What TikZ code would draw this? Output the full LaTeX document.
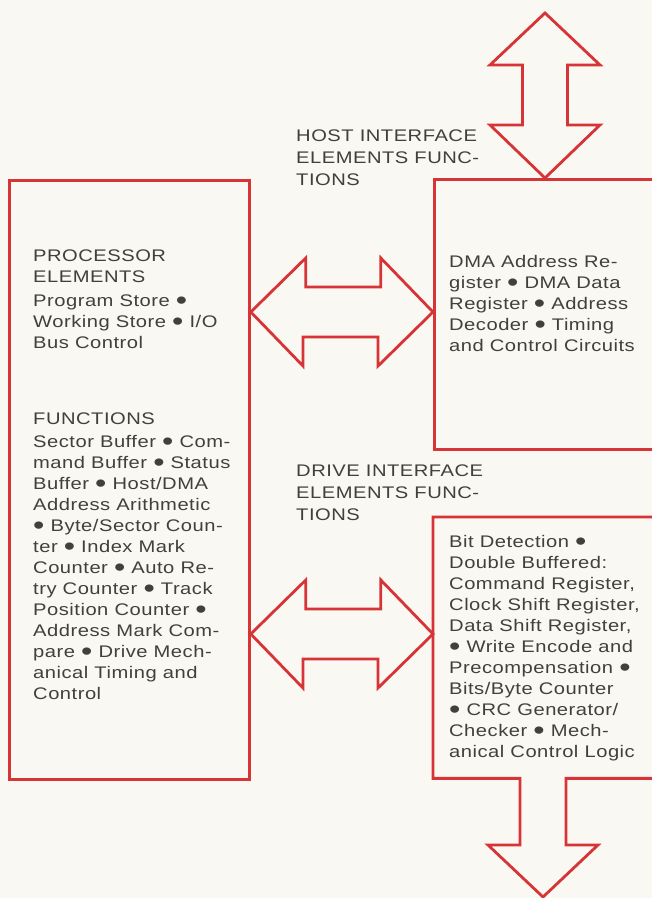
\documentclass[tikz,border=0pt]{standalone}
\usepackage{fontspec}
\newfontfamily\specfont[FakeStretch=1.2,LetterSpace=3]{Liberation Sans}
\usepackage{tikz}
\usetikzlibrary{calc, positioning}
\definecolor{specred}{RGB}{214,52,54}
\definecolor{specink}{RGB}{66,64,62}
\definecolor{paper}{RGB}{250,248,243}
\newcommand{\bul}{\smash{\raisebox{-0.16em}{\scalebox{1.6}{•}}}}
\tikzset{
  unitbox/.style={draw=specred,line width=2.8pt,inner sep=0pt,minimum width=247pt},
  bus/.style={draw=specred,line width=2.8pt,line join=miter},
  spec/.style={inner sep=0pt,align=left,text=specink,font=\specfont\fontsize{16.8}{21}\selectfont},
  heading/.style={spec,anchor=north west,font=\specfont\fontsize{16.8}{22}\selectfont}
}

\begin{document}
\begin{tikzpicture}[x=1pt,y=1pt]
  \useasboundingbox (0,0) rectangle (652,898);
  \clip (0,0) rectangle (652,898);
  \fill[paper] (0,0) rectangle (652,898);
  % blocks
  \node[unitbox, minimum width=240pt, minimum height=599pt, anchor=north west] (proc) at (8,719) {};
  \node[unitbox, minimum height=270pt, anchor=north west] (host) at (433,720) {};
  \node[inner sep=0pt, minimum width=247pt, minimum height=261pt, anchor=north west] (drive) at (433,381) {};
  \coordinate (hostlink) at (0,586);
  \coordinate (drivelink) at (0,264);
  \coordinate (hosttop) at (545,720);
  \coordinate (driveout) at (543,120);
  % texts
  \node[heading] (hosthead) at (296,768) {HOST INTERFACE\\ELEMENTS FUNC-\\TIONS};
  \node[heading] (drivehead) at (296,433) {DRIVE INTERFACE\\ELEMENTS FUNC-\\TIONS};
  \node[spec, below right=71pt and 25pt of proc.north west] (proctext) {PROCESSOR\\ELEMENTS\\[3pt]Program Store \bul\\Working Store \bul{} I/O\\Bus Control};
  \node[spec, below right=234pt and 25pt of proc.north west] (functext) {FUNCTIONS\\[2pt]Sector Buffer \bul{} Com-\\mand Buffer \bul{} Status\\Buffer \bul{} Host/DMA\\Address Arithmetic\\\bul{} Byte/Sector Coun-\\ter \bul{} Index Mark\\Counter \bul{} Auto Re-\\try Counter \bul{} Track\\Position Counter \bul\\Address Mark Com-\\pare \bul{} Drive Mech-\\anical Timing and\\Control};
  \node[spec, below right=77pt and 16pt of host.north west] (hosttext) {DMA Address Re-\\gister \bul{} DMA Data\\Register \bul{} Address\\Decoder \bul{} Timing\\and Control Circuits};
  \node[spec, below right=18pt and 16pt of drive.north west] (drivetext) {Bit Detection \bul\\Double Buffered:\\Command Register,\\Clock Shift Register,\\Data Shift Register,\\\bul{} Write Encode and\\Precompensation \bul\\Bits/Byte Counter\\\bul{} CRC Generator/\\Checker \bul{} Mech-\\anical Control Logic};
  % buses
  \draw[bus] (hosttop) -- ++(-55,53) -- ++(32.5,0) -- ++(0,60) -- ++(-32.5,0) -- ++(55,52) -- ++(55,-52) -- ++(-32.5,0) -- ++(0,-60) -- ++(32.5,0) -- cycle;
  \draw[bus] (proc.east |- hostlink) -- ++(55,54) -- ++(0,-29) -- ++(75,0) -- ++(0,29) -- (host.west |- hostlink) -- ++(-55,-54) -- ++(0,29) -- ++(-75,0) -- ++(0,-29) -- cycle;
  \draw[bus] (proc.east |- drivelink) -- ++(55,54) -- ++(0,-29) -- ++(75,0) -- ++(0,29) -- (drive.west |- drivelink) -- ++(-55,-54) -- ++(0,29) -- ++(-75,0) -- ++(0,-29) -- cycle;
  \draw[bus] (drive.north east) -- (drive.north west) -- (drive.south west) -| ($(driveout)+(-23,-67)$) -- ++(-32,0) -- ($(driveout)+(0,-119)$) -- ++(55,52) -- ++(-32,0) |- (drive.south east);
\end{tikzpicture}
\end{document}
